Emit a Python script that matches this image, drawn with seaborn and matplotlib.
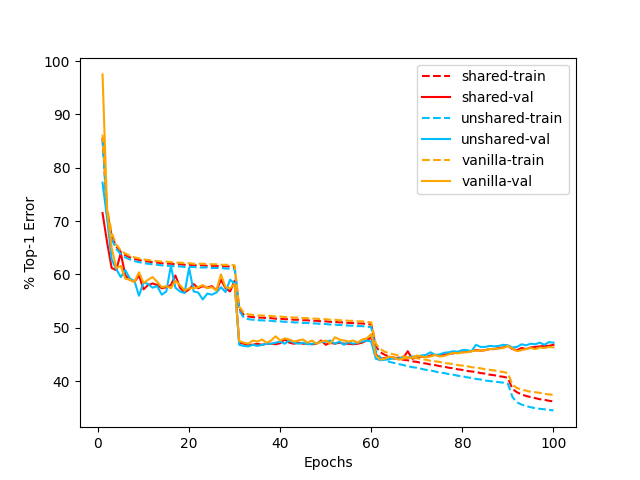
import numpy as np
import matplotlib
matplotlib.use("Agg")
import matplotlib.pyplot as plt
import seaborn as sns

epochs = list(range(1, 101))

shared_train = [
    85.6, 71.8, 67.2, 65.2, 64.2, 63.6, 63.2, 62.9, 62.7, 62.5,
    62.4, 62.3, 62.2, 62.1, 62.0, 62.0, 61.9, 61.9, 61.8, 61.8,
    61.7, 61.7, 61.7, 61.6, 61.6, 61.6, 61.5, 61.5, 61.5, 61.4,
    53.6, 52.4, 52.1, 52.0, 51.9, 51.9, 51.8, 51.8, 51.7, 51.7,
    51.6, 51.6, 51.5, 51.5, 51.4, 51.4, 51.3, 51.3, 51.2, 51.2,
    51.1, 51.1, 51.0, 51.0, 50.9, 50.9, 50.8, 50.8, 50.7, 50.6,
    46.5, 45.4, 44.9, 44.6, 44.4, 44.2, 44.0, 43.9, 43.7, 43.6,
    43.4, 43.3, 43.1, 43.0, 42.8, 42.7, 42.5, 42.4, 42.2, 42.1,
    41.9, 41.8, 41.7, 41.5, 41.4, 41.2, 41.1, 40.9, 40.8, 40.6,
    38.5, 37.9, 37.5, 37.2, 37.0, 36.8, 36.6, 36.5, 36.3, 36.2,
]
shared_val = [
    71.5, 66.0, 61.2, 60.8, 64.0, 59.8, 59.0, 58.6, 59.8, 57.2,
    58.0, 58.3, 58.0, 57.4, 57.6, 58.0, 59.8, 57.5, 56.6, 57.2,
    58.2, 57.4, 57.8, 57.5, 57.8, 57.0, 59.0, 57.4, 56.8, 58.8,
    47.2, 47.0, 46.8, 46.8, 47.0, 46.8, 47.0, 47.0, 46.9, 47.1,
    47.8, 47.2, 47.0, 47.2, 47.0, 47.0, 46.9, 47.0, 47.6, 46.8,
    47.2, 47.0, 47.2, 47.0, 47.0, 46.9, 47.0, 47.2, 47.6, 48.2,
    45.0, 44.2, 44.3, 44.5, 44.2, 44.4, 44.3, 45.6, 44.2, 44.4,
    44.6, 44.5, 44.8, 44.9, 44.8, 45.0, 45.1, 45.2, 45.4, 45.4,
    45.5, 45.6, 45.8, 45.7, 45.8, 46.0, 46.0, 46.2, 46.3, 46.6,
    46.0, 45.8, 46.2, 46.0, 46.3, 46.4, 46.5, 46.6, 46.6, 46.8,
]
unshared_train = [
    85.2, 71.0, 66.6, 64.8, 63.8, 63.2, 62.8, 62.5, 62.3, 62.1,
    62.0, 61.9, 61.8, 61.7, 61.6, 61.6, 61.5, 61.5, 61.4, 61.4,
    61.4, 61.3, 61.3, 61.3, 61.2, 61.2, 61.2, 61.1, 61.1, 61.0,
    53.2, 51.9, 51.6, 51.5, 51.4, 51.4, 51.3, 51.3, 51.2, 51.2,
    51.1, 51.1, 51.0, 51.0, 50.9, 50.9, 50.8, 50.8, 50.7, 50.7,
    50.6, 50.6, 50.5, 50.5, 50.4, 50.4, 50.3, 50.3, 50.2, 50.1,
    45.6, 44.4, 43.9, 43.6, 43.4, 43.2, 43.0, 42.8, 42.6, 42.5,
    42.3, 42.1, 42.0, 41.8, 41.6, 41.5, 41.3, 41.2, 41.0, 40.9,
    40.7, 40.6, 40.4, 40.3, 40.1, 40.0, 39.9, 39.8, 39.7, 39.5,
    37.0, 36.0, 35.6, 35.3, 35.1, 34.9, 34.8, 34.7, 34.6, 34.5,
]
unshared_val = [
    77.2, 70.5, 62.8, 61.0, 59.5, 60.8, 59.2, 58.8, 56.0, 58.5,
    58.2, 57.5, 57.8, 56.2, 56.8, 61.6, 57.5, 56.8, 56.5, 61.2,
    56.8, 56.6, 55.3, 56.4, 56.2, 56.6, 57.6, 56.7, 59.0, 58.3,
    46.8, 46.6, 46.5, 46.8, 46.6, 46.8, 47.0, 47.0, 47.2, 47.4,
    47.0, 47.6, 47.2, 47.0, 47.2, 46.9, 47.0, 47.1, 47.3, 47.4,
    47.6, 47.0, 47.4, 46.8, 47.3, 47.0, 47.2, 47.4, 47.6, 47.4,
    44.2, 43.9, 44.0, 44.1, 44.3, 44.2, 44.5, 44.4, 44.6, 44.6,
    44.8, 44.9, 45.4, 44.9, 45.0, 45.3, 45.4, 45.6, 45.5, 45.8,
    45.8, 45.6, 46.8, 46.4, 46.4, 46.6, 46.5, 46.6, 46.8, 46.7,
    46.3, 46.4, 46.9, 46.7, 47.0, 46.9, 47.2, 46.8, 47.3, 47.2,
]
vanilla_train = [
    86.2, 72.5, 67.8, 65.6, 64.5, 63.9, 63.5, 63.2, 63.0, 62.8,
    62.7, 62.6, 62.5, 62.4, 62.4, 62.3, 62.2, 62.2, 62.1, 62.1,
    62.0, 62.0, 62.0, 61.9, 61.9, 61.9, 61.8, 61.8, 61.8, 61.7,
    54.0, 52.8, 52.5, 52.4, 52.3, 52.3, 52.2, 52.2, 52.1, 52.1,
    52.0, 52.0, 51.9, 51.9, 51.8, 51.8, 51.7, 51.7, 51.6, 51.6,
    51.5, 51.5, 51.4, 51.4, 51.3, 51.3, 51.2, 51.2, 51.1, 51.0,
    47.0, 46.0, 45.5, 45.2, 45.0, 44.8, 44.6, 44.5, 44.4, 44.3,
    44.1, 44.0, 43.8, 43.7, 43.6, 43.4, 43.3, 43.2, 43.0, 42.9,
    42.8, 42.6, 42.5, 42.4, 42.2, 42.1, 42.0, 41.8, 41.7, 41.5,
    39.3, 38.7, 38.4, 38.2, 38.0, 37.9, 37.8, 37.6, 37.5, 37.4,
]
vanilla_val = [
    97.5, 72.0, 65.0, 61.2, 61.6, 59.2, 59.0, 58.6, 60.4, 58.4,
    59.0, 59.5, 58.6, 57.6, 57.8, 57.4, 58.8, 58.0, 57.0, 57.4,
    57.4, 57.6, 58.0, 57.4, 57.6, 57.0, 60.0, 57.6, 57.4, 58.2,
    47.5, 47.2, 47.0, 47.6, 47.4, 47.8, 47.2, 47.6, 48.4, 47.6,
    48.0, 47.8, 47.4, 47.6, 47.8, 47.2, 47.6, 47.0, 47.4, 47.6,
    47.0, 48.2, 47.8, 47.6, 47.4, 47.6, 47.2, 47.8, 48.0, 48.8,
    44.8, 44.0, 44.2, 44.6, 44.4, 44.0, 44.2, 44.3, 44.4, 44.8,
    44.6, 44.5, 44.6, 44.9, 44.6, 44.7, 45.0, 45.3, 45.2, 45.4,
    45.4, 45.6, 45.7, 45.7, 45.8, 46.0, 46.0, 46.1, 46.2, 46.6,
    46.1, 45.6, 45.8, 46.0, 46.2, 46.0, 46.3, 46.2, 46.4, 46.3,
]

series = [
    ("shared-train", shared_train, "red", "--"),
    ("shared-val", shared_val, "red", "-"),
    ("unshared-train", unshared_train, "deepskyblue", "--"),
    ("unshared-val", unshared_val, "deepskyblue", "-"),
    ("vanilla-train", vanilla_train, "orange", "--"),
    ("vanilla-val", vanilla_val, "orange", "-"),
]

fig, ax = plt.subplots(figsize=(6.4, 4.8), dpi=100)
for name, vals, color, ls in series:
    sns.lineplot(x=epochs, y=vals, ax=ax, color=color, linestyle=ls,
                 linewidth=1.5, label=name)

ax.set_xlabel("Epochs")
ax.set_ylabel("% Top-1 Error")
ax.legend(loc="upper right")

plt.savefig("out.png")
